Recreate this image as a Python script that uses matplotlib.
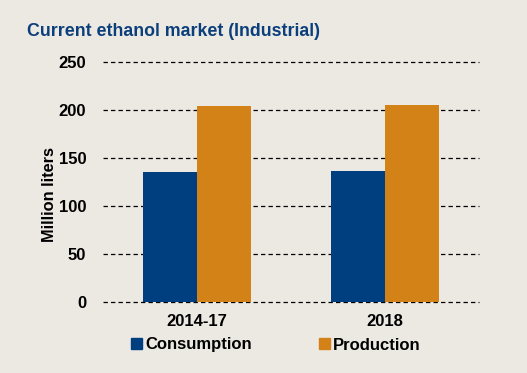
import numpy as np
from matplotlib import pyplot as plt
from matplotlib.patches import Patch

plt.rcParams['font.family'] = ['Liberation Sans', 'DejaVu Sans']

periods = ['2014-17', '2018']
consumption = [135.7, 136.8]
production = [204.5, 205.2]

bg = '#ECE8E2'
navy = '#003F7F'
orange = '#D38217'

fig = plt.figure(figsize=(5.27, 3.73), dpi=100, facecolor=bg)
ax = fig.add_axes([103 / 527, 1 - 302 / 373, 376 / 527, 240 / 373], facecolor=bg)

x = np.arange(len(periods))
w = 0.285
ax.bar(x - w / 2, consumption, w, color=navy, zorder=3)
ax.bar(x + w / 2, production, w, color=orange, zorder=3)

ax.set_xlim(-0.5, 1.5)
ax.set_ylim(0, 250)
ax.set_yticks(range(0, 251, 50))
for yv in range(0, 251, 50):
    ax.axhline(yv, color='black', lw=0.9, ls=(0, (3.5, 2.5)), zorder=1, clip_on=False)

for s in ax.spines.values():
    s.set_visible(False)
ax.tick_params(length=0)
ax.tick_params(axis='y', pad=12)
ax.tick_params(axis='x', pad=9)
ax.set_xticks(x)
ax.set_xticklabels(periods, fontsize=12, fontweight='bold')
for lab in ax.get_yticklabels():
    lab.set_fontsize(12)
    lab.set_fontweight('bold')

fig.text(49 / 527, 1 - 195 / 373, 'Million liters', fontsize=11.8, fontweight='bold',
         rotation=90, ha='center', va='center')

fig.text(27 / 527, 1 - 32 / 373, 'Current ethanol market (Industrial)',
         fontsize=12.8, fontweight='bold', color='#0B3F7C', va='center')

handles = [Patch(color=navy, label='Consumption'), Patch(color=orange, label='Production')]
fig.legend(handles=handles, loc='center', bbox_to_anchor=(276 / 527, 1 - 345 / 373),
           ncol=2, frameon=False, prop={'size': 12, 'weight': 'bold'},
           handlelength=0.65, handleheight=0.65, handletextpad=0.2, columnspacing=4.0)

plt.savefig('out.png', dpi=100, facecolor=bg)
